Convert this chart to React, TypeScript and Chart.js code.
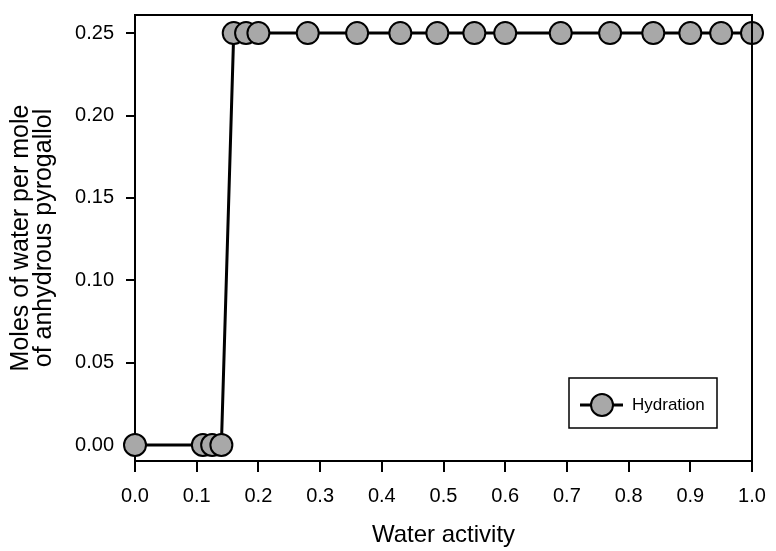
import React, { useEffect, useRef } from "react";
import { Chart, registerables } from "chart.js";

Chart.register(...registerables);

const waterActivity = [0, 0.11, 0.125, 0.14, 0.16, 0.18, 0.2, 0.28, 0.36, 0.43, 0.49, 0.55, 0.6, 0.69, 0.77, 0.84, 0.9, 0.95, 1.0];
const molesWater = [0, 0, 0, 0, 0.25, 0.25, 0.25, 0.25, 0.25, 0.25, 0.25, 0.25, 0.25, 0.25, 0.25, 0.25, 0.25, 0.25, 0.25];
const xTicks = [0, 0.1, 0.2, 0.3, 0.4, 0.5, 0.6, 0.7, 0.8, 0.9, 1.0];
const yTicks = [0, 0.05, 0.1, 0.15, 0.2, 0.25];
const seriesLabel = "Hydration";
const xTitle = "Water activity";
const yTitle = ["Moles of water per mole", "of anhydrous pyrogallol"];

const FONT = "'Liberation Sans', Arial, sans-serif";
const POINT_FILL = "#a8a8a8";

const framePlugin = {
  id: "frame",
  afterDatasetsDraw(chart: any) {
    const { ctx, chartArea } = chart;
    const { left, right, top, bottom } = chartArea;
    ctx.save();
    ctx.strokeStyle = "#000";
    ctx.lineWidth = 2;
    ctx.beginPath();
    ctx.moveTo(left, top);
    ctx.lineTo(right, top);
    ctx.lineTo(right, bottom);
    ctx.stroke();

    // legend box
    const bw = 148;
    const bh = 50;
    const bx = right - 35 - bw;
    const by = bottom - 33 - bh;
    ctx.fillStyle = "#fff";
    ctx.fillRect(bx, by, bw, bh);
    ctx.lineWidth = 1.5;
    ctx.strokeRect(bx, by, bw, bh);
    const cy = by + bh / 2 + 2;
    ctx.lineWidth = 3;
    ctx.beginPath();
    ctx.moveTo(bx + 11, cy);
    ctx.lineTo(bx + 54, cy);
    ctx.stroke();
    ctx.beginPath();
    ctx.arc(bx + 33, cy, 11, 0, Math.PI * 2);
    ctx.fillStyle = POINT_FILL;
    ctx.fill();
    ctx.lineWidth = 2;
    ctx.stroke();
    ctx.fillStyle = "#000";
    ctx.font = `17px ${FONT}`;
    ctx.textBaseline = "middle";
    ctx.textAlign = "left";
    ctx.fillText(seriesLabel, bx + 63, cy);
    ctx.restore();
  },
};

export default function App() {
  const ref = useRef<HTMLCanvasElement>(null);

  useEffect(() => {
    document.body.style.margin = "0";
    const canvas = ref.current;
    if (!canvas) return;
    const chart = new Chart(canvas, {
      type: "line",
      data: {
        datasets: [
          {
            label: seriesLabel,
            data: waterActivity.map((x, i) => ({ x, y: molesWater[i] })),
            borderColor: "#000",
            borderWidth: 3,
            pointRadius: 11,
            pointHoverRadius: 11,
            pointBackgroundColor: POINT_FILL,
            pointBorderColor: "#000",
            pointBorderWidth: 2,
            tension: 0,
            clip: false as any,
          },
        ],
      },
      options: {
        animation: false,
        responsive: false,
        devicePixelRatio: 1,
        layout: { padding: { top: 15, right: 24, left: 0, bottom: 0 } },
        plugins: { legend: { display: false }, tooltip: { enabled: false } },
        scales: {
          x: {
            type: "linear",
            min: 0,
            max: 1,
            afterBuildTicks: (s: any) => {
              s.ticks = xTicks.map((v) => ({ value: v }));
            },
            afterFit: (s: any) => {
              s.height = 90;
              s.paddingLeft = 0;
              s.paddingRight = 0;
            },
            ticks: {
              color: "#000",
              font: { family: FONT, size: 20 },
              padding: 12,
              maxRotation: 0,
              autoSkip: false,
              callback: (v: any) => Number(v).toFixed(1),
            },
            grid: { drawOnChartArea: false, drawTicks: true, tickLength: 11, color: "#000", lineWidth: 2 },
            border: { display: true, color: "#000", width: 2 },
            title: {
              display: true,
              text: xTitle,
              color: "#000",
              font: { family: FONT, size: 24, lineHeight: 1.0 },
              padding: { top: 0, bottom: 4 },
            },
          },
          y: {
            type: "linear",
            min: -0.0097,
            max: 0.261,
            afterBuildTicks: (s: any) => {
              s.ticks = yTicks.map((v) => ({ value: v }));
            },
            afterFit: (s: any) => {
              s.width = 135;
              s.paddingTop = 0;
              s.paddingBottom = 0;
            },
            ticks: {
              color: "#000",
              font: { family: FONT, size: 20 },
              padding: 12,
              autoSkip: false,
              callback: (v: any) => Number(v).toFixed(2),
            },
            grid: { drawOnChartArea: false, drawTicks: true, tickLength: 9, color: "#000", lineWidth: 2 },
            border: { display: true, color: "#000", width: 2 },
            title: {
              display: true,
              text: yTitle,
              color: "#000",
              font: { family: FONT, size: 25, lineHeight: 0.92 },
              padding: { top: 10, bottom: 0 },
            },
          },
        },
      },
      plugins: [framePlugin],
    });
    return () => chart.destroy();
  }, []);

  return (
    <div style={{ width: 776, height: 551, background: "#fff" }}>
      <canvas ref={ref} width={776} height={551} />
    </div>
  );
}
